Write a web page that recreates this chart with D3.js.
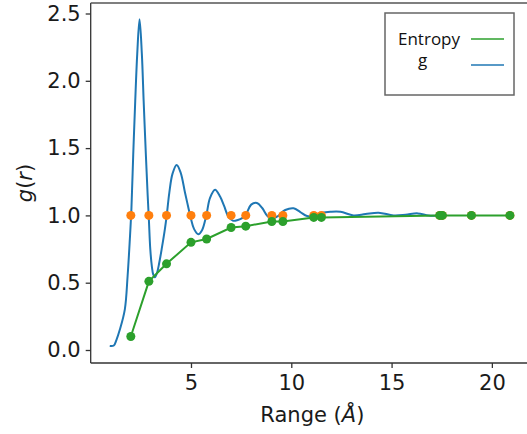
<!DOCTYPE html>
<html lang="en">
  <head>
    <meta charset="UTF-8" />
    <title>g(r) and Entropy</title>
    <script src="https://d3js.org/d3.v7.min.js"></script>
    <style>
      body {
        margin: 0;
        background: #fff;
        font-family: "DejaVu Sans", sans-serif;
      }
      .axis text {
        font-family: "DejaVu Sans", sans-serif;
        font-size: 21px;
        fill: #1a1a1a;
      }
      .axis path,
      .axis line {
        stroke: #333;
        stroke-width: 1.3;
      }
      .legend-text {
        font-family: "Open Sans", sans-serif;
        font-size: 17px;
        fill: #111;
      }
    </style>
  </head>
  <body>
    <svg width="527" height="434"></svg>

    <script>
      // radial distribution curve g(r)
      const gR = [0.95, 1.15, 1.28, 1.45, 1.7, 1.84, 1.95, 2.03, 2.12, 2.22, 2.32, 2.435,
        2.55, 2.64, 2.75, 2.84, 2.9, 2.97, 3.05, 3.12, 3.2, 3.3, 3.42, 3.55, 3.7, 3.79,
        3.92, 4.08, 4.285, 4.48, 4.7, 4.85, 4.99, 5.15, 5.365, 5.55, 5.7, 5.79, 5.95,
        6.2, 6.45, 6.65, 6.87, 7.1, 7.335, 7.55, 7.75, 8.0, 8.285, 8.55, 8.785, 9.0,
        9.285, 9.7, 10.115, 10.45, 10.785, 11.2, 11.55, 11.95, 12.45, 13.1, 13.7, 14.35,
        15.1, 15.7, 16.3, 16.85, 17.45];
      const gVals = [0.03, 0.033, 0.074, 0.15, 0.3, 0.55, 0.82, 1.05, 1.45, 1.85, 2.2, 2.457,
        2.2, 1.85, 1.45, 1.15, 0.97, 0.75, 0.62, 0.56, 0.54, 0.57, 0.65, 0.76, 0.9, 1.0,
        1.17, 1.31, 1.374, 1.32, 1.17, 1.07, 0.98, 0.9, 0.86, 0.89, 0.96, 1.02, 1.13,
        1.19, 1.14, 1.07, 0.99, 0.96, 0.966, 0.98, 1.01, 1.08, 1.092, 1.055, 1.0, 0.975,
        0.99, 1.04, 1.053, 1.025, 0.995, 1.0, 1.02, 1.027, 1.027, 1.0, 1.01, 1.02,
        1.0, 1.005, 1.015, 1.0, 0.997];

      // entropy points
      const entR = [2.0, 2.9, 3.78, 5.0, 5.78, 7.0, 7.73, 9.03, 9.58, 11.12, 11.5, 17.4, 17.53, 18.98, 20.9];
      const entVals = [0.1, 0.51, 0.64, 0.8, 0.825, 0.91, 0.92, 0.955, 0.955, 0.985, 0.985, 1.0, 1.0, 1.0, 1.0];

      // reference level markers (orange)
      const refLevel = 1.0;

      const yTicks = [0, 0.5, 1.0, 1.5, 2.0, 2.5];
      const xTicks = [5, 10, 15, 20];
      const legendItems = ["Entropy", "g"];

      const blue = "#1f77b4";
      const orange = "#ff7f0e";
      const green = "#2ca02c";

      const svg = d3.select("svg");
      const m = { left: 90.7, right: 534, top: 3, bottom: 363 };

      const x = d3.scaleLinear().domain([0, 22.1]).range([m.left, m.right]);
      const y = d3.scaleLinear().domain([0, 2.5]).range([350, 13.5]);

      // axes
      const yAxis = d3.axisLeft(y).tickValues(yTicks).tickFormat(d3.format(".1f"))
        .tickSize(5).tickPadding(5).tickSizeOuter(0);
      svg.append("g").attr("class", "axis")
        .attr("transform", `translate(${m.left},0)`)
        .call(yAxis)
        .call((g) => g.select(".domain").remove());

      const xAxis = d3.axisBottom(x).tickValues(xTicks).tickSize(5).tickPadding(7).tickSizeOuter(0);
      svg.append("g").attr("class", "axis")
        .attr("transform", `translate(0,${m.bottom})`)
        .call(xAxis)
        .call((g) => g.select(".domain").remove());

      // spines
      svg.append("line").attr("x1", m.left).attr("x2", m.left).attr("y1", m.top).attr("y2", m.bottom)
        .attr("stroke", "#333").attr("stroke-width", 1.3);
      svg.append("line").attr("x1", m.left).attr("x2", 527).attr("y1", m.bottom).attr("y2", m.bottom)
        .attr("stroke", "#333").attr("stroke-width", 1.3);
      svg.append("line").attr("x1", m.left).attr("x2", 527).attr("y1", m.top).attr("y2", m.top)
        .attr("stroke", "#555").attr("stroke-width", 1.5);

      // g(r) curve
      const gData = gR.map((r, i) => [r, gVals[i]]);
      svg.append("path")
        .datum(gData)
        .attr("fill", "none")
        .attr("stroke", blue)
        .attr("stroke-width", 2)
        .attr("d", d3.line().x((d) => x(d[0])).y((d) => y(d[1])).curve(d3.curveCatmullRom.alpha(0.5)));

      // orange markers at g = 1
      svg.selectAll(".ref")
        .data(entR)
        .enter()
        .append("circle")
        .attr("class", "ref")
        .attr("cx", (d) => x(d))
        .attr("cy", y(refLevel))
        .attr("r", 4.5)
        .attr("fill", orange);

      // entropy line + markers
      const entData = entR.map((r, i) => [r, entVals[i]]);
      svg.append("path")
        .datum(entData)
        .attr("fill", "none")
        .attr("stroke", green)
        .attr("stroke-width", 2)
        .attr("d", d3.line().x((d) => x(d[0])).y((d) => y(d[1])));
      svg.selectAll(".ent")
        .data(entData)
        .enter()
        .append("circle")
        .attr("class", "ent")
        .attr("cx", (d) => x(d[0]))
        .attr("cy", (d) => y(d[1]))
        .attr("r", 4.5)
        .attr("fill", green);

      // axis labels
      const xl = svg.append("text")
        .attr("x", (m.left + m.right) / 2)
        .attr("y", 422)
        .attr("text-anchor", "middle")
        .style("font-size", "21px")
        .style("fill", "#1a1a1a");
      xl.append("tspan").text("Range (");
      xl.append("tspan").style("font-style", "italic").text("Å");
      xl.append("tspan").text(")");

      const yl = svg.append("text")
        .attr("transform", `translate(32,${(m.top + m.bottom) / 2}) rotate(-90)`)
        .attr("text-anchor", "middle")
        .style("font-size", "21px")
        .style("fill", "#1a1a1a");
      yl.append("tspan").style("font-style", "italic").text("g");
      yl.append("tspan").text("(");
      yl.append("tspan").style("font-style", "italic").text("r");
      yl.append("tspan").text(")");

      // legend box (added on top of the figure)
      const lg = svg.append("g");
      lg.append("rect")
        .attr("x", 385).attr("y", 13).attr("width", 129).attr("height", 82)
        .attr("fill", "#fff").attr("stroke", "#666").attr("stroke-width", 1.5);
      const legendColors = [green, blue];
      legendItems.forEach((name, i) => {
        const ly = i === 0 ? 39 : 65;
        lg.append("text")
          .attr("class", "legend-text")
          .attr("x", i === 0 ? 398 : 418)
          .attr("y", i === 0 ? 45 : 66)
          .text(name);
        lg.append("line")
          .attr("x1", 471).attr("x2", 504)
          .attr("y1", ly).attr("y2", ly)
          .attr("stroke", legendColors[i])
          .attr("stroke-width", 1.5);
      });
    </script>
  </body>
</html>
